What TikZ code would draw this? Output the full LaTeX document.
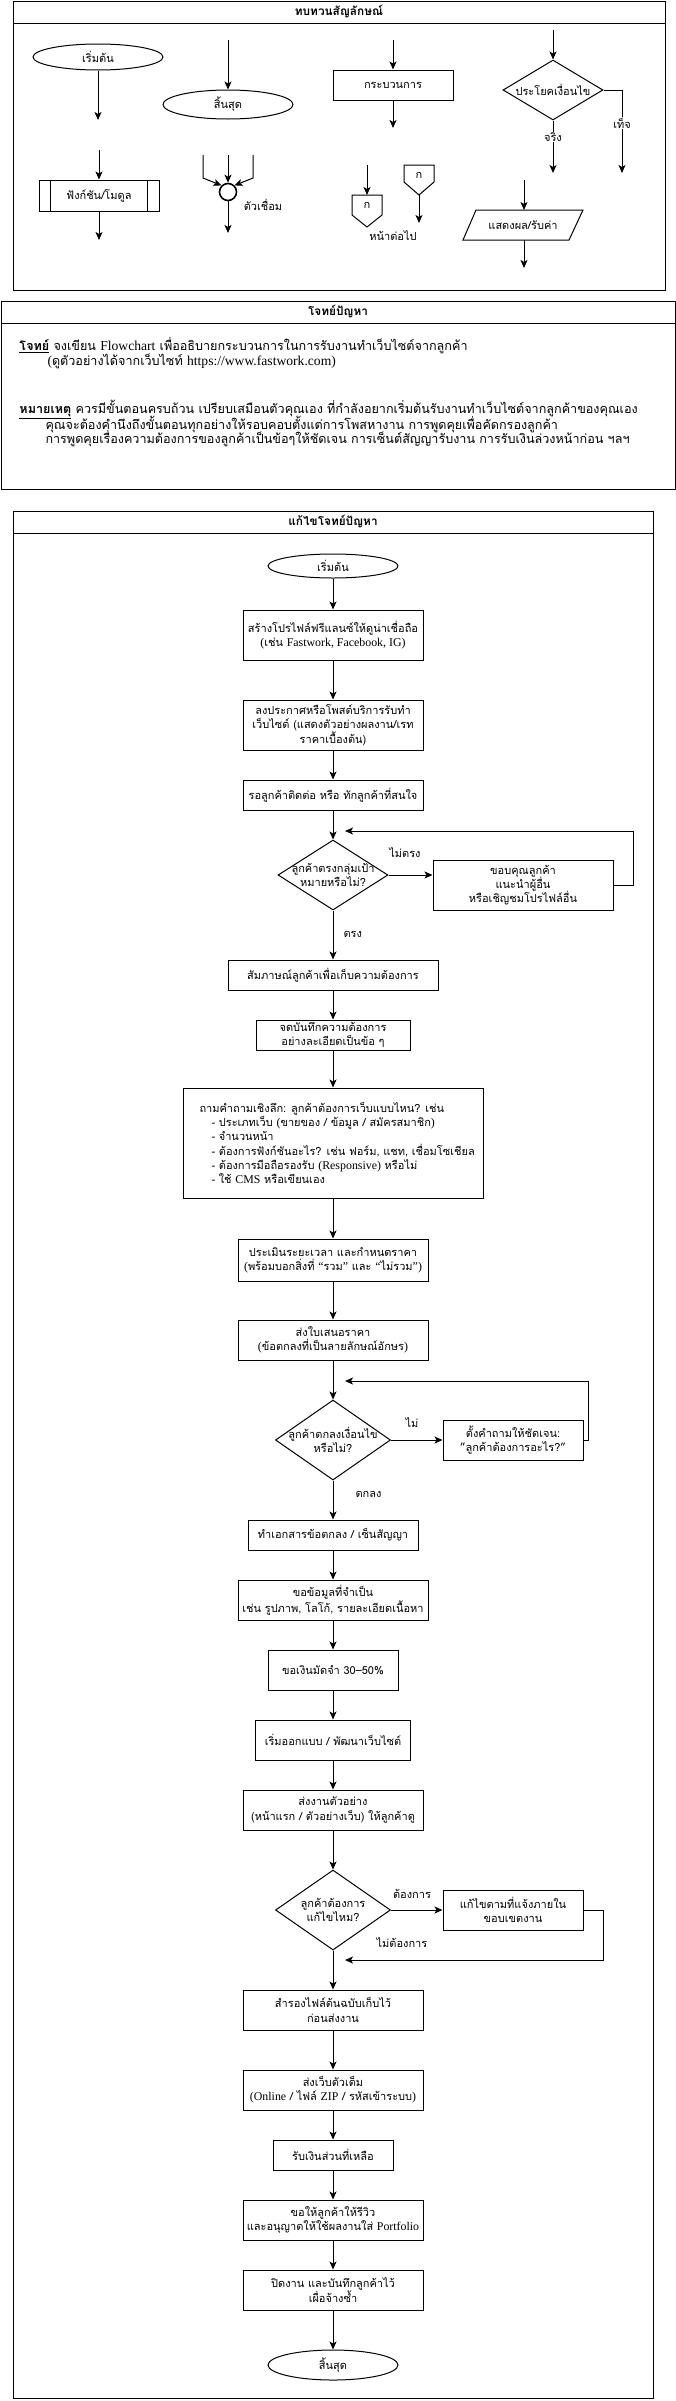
\documentclass[tikz,border=0pt]{standalone}
\usepackage{fontspec}
\setmainfont{Loma}[Script=Thai]
\newfontfamily\latf{Liberation Serif}[Scale=1.08]
\usetikzlibrary{shapes.geometric,arrows.meta}
\newcommand\lf[1]{{\latf #1}}
\newcommand\fsA{\fontsize{11pt}{14.3pt}\selectfont}
\newcommand\fsB{\fontsize{12.6pt}{14pt}\selectfont}
\newcommand\fsT{\fontsize{11.8pt}{14pt}\selectfont\bfseries}
\begin{document}
\begin{tikzpicture}[x=1pt,y=-1pt, line width=1pt,
  every node/.style={inner sep=0pt, font=\fsA, align=center},
  box/.style={draw, rectangle, line width=1pt},
  bsz/.style 2 args={minimum width=#1pt, minimum height=#2pt},
  term/.style={draw, ellipse, line width=1pt},
  dia/.style={draw, diamond, line width=1pt},
  arr/.style={-{Stealth[length=8pt,width=7pt,inset=2pt]}, line width=1pt},
  lbl/.style={font=\fsA},
  wlbl/.style={font=\fsA, fill=white, inner sep=1pt},
  ptxt/.style={font=\fsB, anchor=west},
  sect/.style={draw, line width=1pt},
  ttl/.style={font=\fsT},
  shp/.style={draw, line width=1pt, line join=miter}
]
\useasboundingbox (0,0) rectangle (676,2401);
\fill[white] (0,0) rectangle (676,2401);

% ================= Section 1: legend =================
\draw[sect] (13,1) rectangle (665,290);
\draw[sect] (13,23) -- (665,23);
\node[ttl] (t1) at (339,12) {ทบทวนสัญลักษณ์};

% start / function
\node[term, bsz={130}{26}] (lstart) at (98,57) {เริ่มต้น};
\coordinate (lstartB) at (98,120);
\draw[arr] (lstart.south) -- (lstartB);
\coordinate (lfuncA) at (99,150);
\node[box, bsz={120}{31}] (lfunc) at (99,195.5) {ฟังก์ชัน/โมดูล};
\draw ([xshift=12pt]lfunc.north west) -- ([xshift=12pt]lfunc.south west);
\draw ([xshift=-12pt]lfunc.north east) -- ([xshift=-12pt]lfunc.south east);
\draw[arr] (lfuncA) -- (lfunc.north);
\coordinate (lfuncB) at (99,240);
\draw[arr] (lfunc.south) -- (lfuncB);

% end / connector
\coordinate (lendA) at (228,40);
\node[term, bsz={130}{29}] (lend) at (228,104.5) {สิ้นสุด};
\draw[arr] (lendA) -- (lend.north);
\node[draw, circle, minimum size=17pt, line width=1.6pt] (lcon) at (228,192) {};
\coordinate (lc1) at (203,155); \coordinate (lc1b) at (203,178);
\coordinate (lc2) at (228,155);
\coordinate (lc3) at (253,155); \coordinate (lc3b) at (253,178);
\draw[arr] (lc1) -- (lc1b) -- (lcon.north west);
\draw[arr] (lc2) -- (lcon.north);
\draw[arr] (lc3) -- (lc3b) -- (lcon.north east);
\coordinate (lconB) at (228,233);
\draw[arr] (lcon.south) -- (lconB);
\node[lbl] (lcont) at (263,205) {ตัวเชื่อม};

% process / off-page
\coordinate (lprocA) at (393,40);
\node[box, bsz={120}{30}] (lproc) at (393,85) {กระบวนการ};
\draw[arr] (lprocA) -- (lproc.north);
\coordinate (lprocB) at (393,128);
\draw[arr] (lproc.south) -- (lprocB);

\coordinate (opLA) at (367,165);
\coordinate (opLtop) at (367,195);
\draw[shp] (352,195) -- (382,195) -- (382,215) -- (367,227) -- (352,215) -- cycle;
\draw[arr] (opLA) -- (opLtop);
\node[lbl] (opLt) at (367,205) {ก};
\draw[shp] (404,165) -- (434,165) -- (434,182) -- (419,195) -- (404,182) -- cycle;
\coordinate (opRbot) at (419,195);
\coordinate (opRB) at (419,223);
\draw[arr] (opRbot) -- (opRB);
\node[lbl] (opRt) at (419,175) {ก};
\node[lbl] (opt) at (393,236) {หน้าต่อไป};

% decision legend
\coordinate (ldecA) at (553,30);
\node[dia, bsz={100}{60}] (ldec) at (553,90) {};
\node[lbl] (ldect) at (553,90) {ประโยคเงื่อนไข};
\draw[arr] (ldecA) -- (ldec.north);
\coordinate (ldecT) at (553,173);
\draw[arr] (ldec.south) -- (ldecT);
\node[wlbl] (ltrue) at (553,137) {จริง};
\coordinate (ldecF1) at (622,90);
\coordinate (ldecF) at (622,173);
\draw[arr] (ldec.east) -- (ldecF1) -- (ldecF);
\node[wlbl] (lfalse) at (622,123) {เท็จ};

% parallelogram
\draw[shp] (476,210) -- (583,210) -- (569,240) -- (463,240) -- cycle;
\node[lbl] (liot) at (523,225) {แสดงผล/รับค่า};
\coordinate (lioA) at (524,180); \coordinate (lioT) at (524,210);
\coordinate (lioBt) at (524,240); \coordinate (lioB) at (524,268);
\draw[arr] (lioA) -- (lioT);
\draw[arr] (lioBt) -- (lioB);

% ================= Section 2: problem =================
\draw[sect] (1,301) rectangle (675,489);
\draw[sect] (1,323) -- (675,323);
\node[ttl] (t2) at (338,312) {โจทย์ปัญหา};
\node[ptxt] (p1) at (19,346) {\underline{\textbf{โจทย์}} จงเขียน \lf{Flowchart} เพื่ออธิบายกระบวนการในการรับงานทำเว็บไซต์จากลูกค้า};
\node[ptxt] (p2) at (47,361) {\lf{(}ดูตัวอย่างได้จากเว็บไซท์ \lf{https://www.fastwork.com)}};
\node[ptxt] (n1) at (19,409) {\underline{\textbf{หมายเหตุ}} ควรมีขั้นตอนครบถ้วน เปรียบเสมือนตัวคุณเอง ที่กำลังอยากเริ่มต้นรับงานทำเว็บไซต์จากลูกค้าของคุณเอง};
\node[ptxt] (n2) at (45,424) {คุณจะต้องคำนึงถึงขั้นตอนทุกอย่างให้รอบคอบตั้งแต่การโพสหางาน การพูดคุยเพื่อคัดกรองลูกค้า};
\node[ptxt] (n3) at (45,439) {การพูดคุยเรื่องความต้องการของลูกค้าเป็นข้อๆให้ชัดเจน การเซ็นต์สัญญารับงาน การรับเงินล่วงหน้าก่อน ฯลฯ};

% ================= Section 3: solution =================
\draw[sect] (13,511) rectangle (653,2398);
\draw[sect] (13,533) -- (653,533);
\node[ttl] (t3) at (333,522) {แก้ไขโจทย์ปัญหา};

\node[term, bsz={130}{24}] (s0) at (333,566) {เริ่มต้น};
\node[box, bsz={180}{50}] (b1) at (333,635) {สร้างโปรไฟล์ฟรีแลนซ์ให้ดูน่าเชื่อถือ\\\lf{(}เช่น \lf{Fastwork, Facebook, IG)}};
\node[box, bsz={180}{50}] (b2) at (333,725) {ลงประกาศหรือโพสต์บริการรับทำ\\เว็บไซต์ (แสดงตัวอย่างผลงาน/เรท\\ราคาเบื้องต้น)};
\node[box, bsz={180}{30}] (b3) at (333,795) {รอลูกค้าติดต่อ หรือ ทักลูกค้าที่สนใจ};
\node[dia, bsz={110}{70}] (d1) at (333,875) {};
\node[lbl] (d1t) at (333,875) {ลูกค้าตรงกลุ่มเป้า\\หมายหรือไม่?};
\node[box, bsz={180}{50}] (r1) at (523,885) {ขอบคุณลูกค้า\\แนะนำผู้อื่น\\หรือเชิญชมโปรไฟล์อื่น};
\node[box, bsz={210}{30}] (b4) at (333,975) {สัมภาษณ์ลูกค้าเพื่อเก็บความต้องการ};
\node[box, bsz={154}{30}] (b5) at (333,1035) {จดบันทึกความต้องการ\\อย่างละเอียดเป็นข้อ ๆ};
\node[box, bsz={300}{110}] (b6) at (333,1143) {};
\node[anchor=west, align=left] (b6t) at (199,1143) {ถามคำถามเชิงลึก: ลูกค้าต้องการเว็บแบบไหน? เช่น\\
\hspace*{12pt}- ประเภทเว็บ \lf{(}ขายของ / ข้อมูล / สมัครสมาชิก\lf{)}\\
\hspace*{12pt}- จำนวนหน้า\\
\hspace*{12pt}- ต้องการฟังก์ชันอะไร? เช่น ฟอร์ม, แชท, เชื่อมโซเชียล\\
\hspace*{12pt}- ต้องการมือถือรองรับ \lf{(Responsive)} หรือไม่\\
\hspace*{12pt}- ใช้ \lf{CMS} หรือเขียนเอง};
\node[box, bsz={190}{42}] (b7) at (333,1260) {ประเมินระยะเวลา และกำหนดราคา\\\lf{(}พร้อมบอกสิ่งที่ \lf{“}รวม\lf{”} และ \lf{“}ไม่รวม\lf{”)}};
\node[box, bsz={190}{40}] (b8) at (333,1340) {ส่งใบเสนอราคา\\\lf{(}ข้อตกลงที่เป็นลายลักษณ์อักษร\lf{)}};
\node[dia, bsz={115}{80}] (d2) at (333,1440) {};
\node[lbl] (d2t) at (333,1440) {ลูกค้าตกลงเงื่อนไข\\หรือไม่?};
\node[box, bsz={140}{40}] (r2) at (513,1440) {ตั้งคำถามให้ชัดเจน:\\"ลูกค้าต้องการอะไร?"};
\node[box, bsz={170}{30}] (b9) at (333,1535) {ทำเอกสารข้อตกลง / เซ็นสัญญา};
\node[box, bsz={190}{40}] (b10) at (333,1600) {ขอข้อมูลที่จำเป็น\\เช่น รูปภาพ, โลโก้, รายละเอียดเนื้อหา};
\node[box, bsz={130}{40}] (b11) at (333,1670) {ขอเงินมัดจำ 30--50\%};
\node[box, bsz={155}{40}] (b12) at (333,1740) {เริ่มออกแบบ / พัฒนาเว็บไซต์};
\node[box, bsz={180}{40}] (b13) at (333,1810) {ส่งงานตัวอย่าง\\(หน้าแรก / ตัวอย่างเว็บ) ให้ลูกค้าดู};
\node[dia, bsz={115}{80}] (d3) at (333,1910) {};
\node[lbl] (d3t) at (333,1910) {ลูกค้าต้องการ\\แก้ไขไหม?};
\node[box, bsz={140}{40}] (r3) at (513,1910) {แก้ไขตามที่แจ้งภายใน\\ขอบเขตงาน};
\node[box, bsz={180}{40}] (b14) at (333,2010) {สำรองไฟล์ต้นฉบับเก็บไว้\\ก่อนส่งงาน};
\node[box, bsz={180}{40}] (b15) at (333,2090) {ส่งเว็บตัวเต็ม\\\lf{(Online} / ไฟล์ \lf{ZIP} / รหัสเข้าระบบ\lf{)}};
\node[box, bsz={120}{30}] (b16) at (333,2155) {รับเงินส่วนที่เหลือ};
\node[box, bsz={180}{40}] (b17) at (333,2220) {ขอให้ลูกค้าให้รีวิว\\และอนุญาตให้ใช้ผลงานใส่ \lf{Portfolio}};
\node[box, bsz={180}{40}] (b18) at (333,2290) {ปิดงาน และบันทึกลูกค้าไว้\\เผื่อจ้างซ้ำ};
\node[term, bsz={130}{30}] (s1) at (333,2365) {สิ้นสุด};

% main arrows
\draw[arr] (s0) -- (b1);
\draw[arr] (b1) -- (b2);
\draw[arr] (b2) -- (b3);
\draw[arr] (b3) -- (d1.north);
\draw[arr] (d1.south) -- (b4);
\draw[arr] (b4) -- (b5);
\draw[arr] (b5) -- (b6);
\draw[arr] (b6) -- (b7);
\draw[arr] (b7) -- (b8);
\draw[arr] (b8) -- (d2.north);
\draw[arr] (d2.south) -- (b9);
\draw[arr] (b9) -- (b10);
\draw[arr] (b10) -- (b11);
\draw[arr] (b11) -- (b12);
\draw[arr] (b12) -- (b13);
\draw[arr] (b13) -- (d3.north);
\draw[arr] (d3.south) -- (b14);
\draw[arr] (b14) -- (b15);
\draw[arr] (b15) -- (b16);
\draw[arr] (b16) -- (b17);
\draw[arr] (b17) -- (b18);
\draw[arr] (b18) -- (s1);

% loop 1
\draw[arr] (d1.east) -- (d1.east -| r1.west);
\coordinate (l1a) at (633,885);
\coordinate (l1b) at (633,831);
\coordinate (l1c) at (345,831);
\draw[arr] (r1.east) -- (l1a) -- (l1b) -- (l1c);
\node[lbl] (y1) at (405,853) {ไม่ตรง};
\node[lbl, anchor=west] (y2) at (343,934) {ตรง};

% loop 2
\draw[arr] (d2.east) -- (r2.west);
\coordinate (l2a) at (588,1440);
\coordinate (l2b) at (588,1381);
\coordinate (l2c) at (345,1381);
\draw[arr] (r2.east) -- (l2a) -- (l2b) -- (l2c);
\node[lbl] (y3) at (412,1423) {ไม่};
\node[lbl, anchor=west] (y4) at (355,1494) {ตกลง};

% loop 3
\draw[arr] (d3.east) -- (r3.west);
\coordinate (l3a) at (603,1910);
\coordinate (l3b) at (603,1960);
\coordinate (l3c) at (345,1960);
\draw[arr] (r3.east) -- (l3a) -- (l3b) -- (l3c);
\node[lbl] (y5) at (412,1894) {ต้องการ};
\node[lbl] (y6) at (402,1943) {ไม่ต้องการ};
\end{tikzpicture}
\end{document}
